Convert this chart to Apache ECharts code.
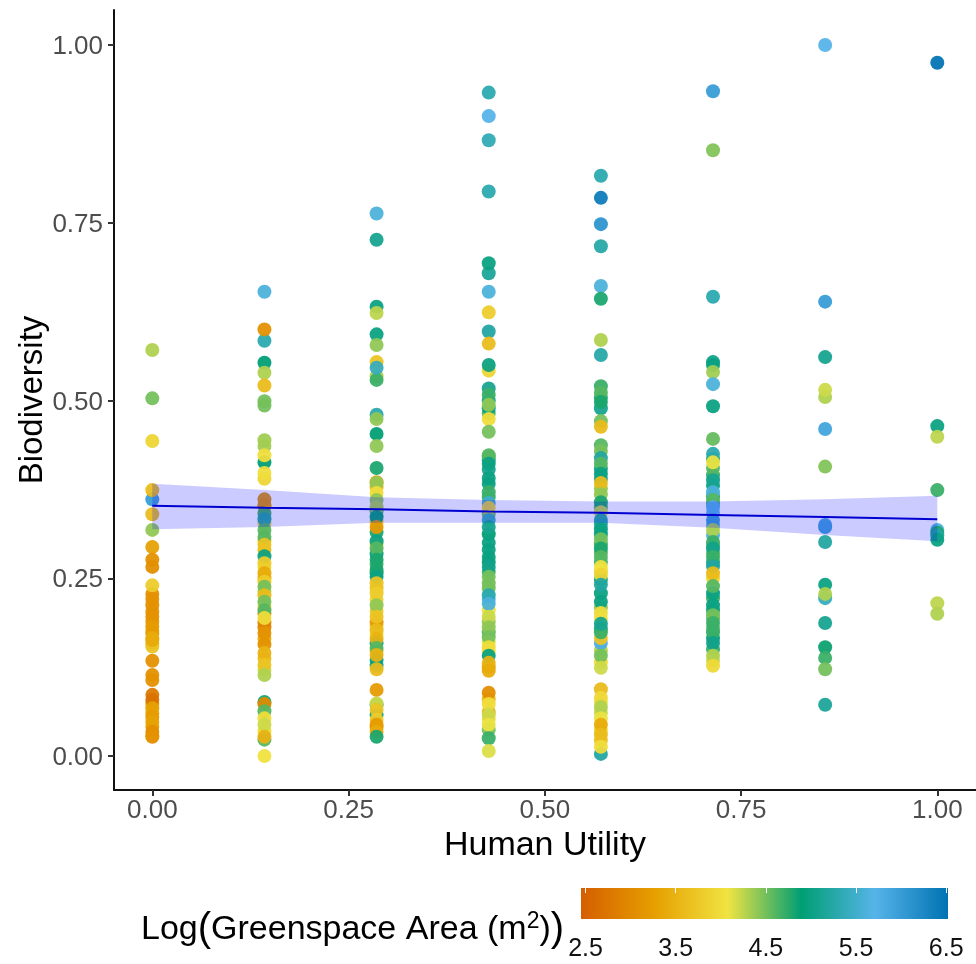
<!DOCTYPE html>
<html>
<head>
<meta charset="utf-8">
<style>html,body{margin:0;padding:0;background:#fff}#c{width:976px;height:964px}</style>
<script src="https://cdn.jsdelivr.net/npm/echarts@6/dist/echarts.min.js"></script>
</head>
<body>
<div id="c"></div>
<script>
const utilityLevels = [0, 1/7, 2/7, 3/7, 4/7, 5/7, 6/7, 1];

const biodiversity0 = [.228,.189,.176,.158,.073,.060,.041,.361,.571,.503,.443,.374,.340,.318,.294,.276,.266,.240,.221,.212,.203,.196,.182,.172,.154,.166,.163,.134,.114,.107,.086,.079,.067,.055,.048,.028,.034,.027];
const area0 = [3.1,3.2,3.4,3.6,3.3,3.4,3.2,6.0,4.3,4.5,3.9,3.6,3.6,4.4,3.3,3.1,3.05,3.8,3.1,3.1,3.1,3.1,3.2,3.2,3.7,3.4,3.4,3.1,3.1,3.1,2.8,2.7,3.3,3.2,3.3,3.6,3.05,3.1];

const biodiversity1 = [.351,.327,.302,.290,.265,.250,.232,.211,.200,.181,.165,.137,.121,.035,.653,.584,.600,.553,.539,.521,.499,.493,.444,.436,.413,.423,.390,.398,.353,.361,.341,.333,.318,.308,.297,.281,.271,.257,.245,.238,.226,.217,.205,.188,.194,.173,.157,.145,.128,.114,.076,.073,.063,.023,.053,.044,.027,.000];
const area1 = [3.3,3.9,3.8,3.6,4.0,3.5,4.3,3.9,3.0,3.0,3.4,3.6,4.2,4.0,5.6,5.3,3.1,4.9,4.3,3.6,4.5,4.5,4.35,4.35,4.9,4.0,3.9,4.0,3.2,3.1,4.7,5.2,4.6,4.6,3.7,5.0,3.8,3.4,3.8,4.5,3.6,4.5,4.6,2.9,4.0,3.1,3.1,3.5,3.7,4.3,4.8,3.0,4.6,4.6,4.0,4.2,3.5,4.05];

const biodiversity2 = [.378,.344,.329,.315,.298,.284,.270,.257,.236,.220,.204,.183,.171,.147,.128,.058,.040,.763,.726,.632,.623,.593,.578,.554,.534,.529,.546,.480,.474,.453,.436,.405,.385,.384,.370,.360,.350,.336,.322,.302,.292,.276,.262,.252,.243,.229,.212,.188,.196,.177,.159,.165,.152,.135,.142,.122,.093,.072,.074,.065,.051,.044,.034,.027];
const area2 = [3.6,4.6,3.8,4.8,4.0,5.0,4.7,4.9,3.7,3.9,3.8,3.9,4.0,3.8,5.0,5.0,3.3,5.6,5.1,5.0,4.25,5.0,4.4,3.7,4.3,4.7,5.4,5.3,4.4,4.9,4.4,4.8,3.3,4.4,4.0,4.4,4.3,4.9,3.2,5.0,4.6,4.8,4.8,5.0,3.7,3.8,4.4,3.2,3.7,3.6,5.0,3.5,4.6,5.0,3.5,3.6,3.2,5.0,4.2,3.7,3.8,3.2,3.4,4.8];

const biodiversity3 = [.500,.482,.416,.403,.383,.364,.340,.312,.290,.273,.259,.236,.220,.205,.189,.174,.160,.147,.125,.080,.052,.037,.933,.900,.866,.794,.679,.693,.653,.624,.597,.580,.542,.550,.517,.508,.489,.494,.474,.456,.421,.423,.411,.391,.371,.356,.349,.332,.322,.300,.280,.266,.243,.252,.226,.214,.196,.181,.167,.153,.141,.131,.120,.089,.062,.073,.058,.044,.025,.007];
const area3 = [5.1,4.6,5.0,5.1,5.0,4.7,4.5,4.9,5.0,4.9,4.7,4.5,5.7,4.1,4.4,4.6,4.1,4.0,3.3,3.6,4.0,4.5,5.3,5.7,5.35,5.3,5.15,5.0,5.6,3.8,5.2,3.6,3.9,5.0,5.1,4.7,5.0,4.4,4.0,4.5,4.6,4.6,5.0,5.0,4.7,5.5,3.9,5.4,5.1,5.0,5.0,5.05,4.5,4.5,5.3,5.6,4.2,4.4,4.5,4.0,5.0,3.5,3.4,3.05,3.4,4.0,4.2,4.1,4.7,4.15];

const biodiversity4 = [.504,.437,.404,.390,.376,.350,.326,.312,.298,.286,.273,.260,.248,.229,.209,.193,.179,.148,.132,.076,.061,.036,.022,.816,.785,.748,.717,.661,.643,.585,.564,.520,.511,.489,.498,.471,.463,.429,.419,.411,.397,.384,.368,.357,.343,.332,.319,.305,.292,.280,.266,.255,.241,.217,.201,.159,.166,.174,.186,.141,.124,.094,.082,.069,.053,.044,.030,.003,.013];
const area4 = [4.8,4.6,5.0,5.1,4.4,4.6,5.3,5.0,4.7,4.6,4.7,3.9,4.8,5.0,4.4,4.1,5.0,4.3,4.0,4.0,4.2,3.9,3.7,5.3,6.4,6.1,5.25,5.6,4.8,4.3,5.25,4.7,4.6,5.1,4.8,4.5,3.6,4.5,5.2,4.6,5.0,3.6,4.4,4.8,4.2,5.2,5.0,4.5,4.8,4.6,4.05,3.9,5.2,5.0,4.0,5.8,3.7,4.7,5.1,4.5,4.2,3.6,3.95,4.3,4.1,3.4,3.6,5.2,4.0];

const biodiversity5 = [.418,.395,.380,.365,.355,.325,.296,.285,.273,.250,.222,.205,.193,.180,.166,.150,.134,.935,.852,.646,.554,.550,.540,.523,.492,.446,.425,.405,.413,.388,.371,.360,.350,.342,.332,.311,.318,.301,.292,.280,.267,.257,.229,.239,.212,.198,.187,.174,.159,.141,.127];
const area5 = [4.8,4.7,5.0,4.8,5.3,5.5,4.6,4.6,5.0,3.9,4.7,4.8,4.6,4.6,4.9,4.7,4.2,6.0,4.45,5.3,5.05,5.0,4.35,5.6,5.0,4.55,5.3,4.6,4.1,5.1,5.6,4.6,5.7,5.7,6.0,5.6,4.3,4.7,5.05,4.7,5.2,3.6,5.0,4.6,5.0,4.5,4.7,4.7,5.05,4.3,3.95];

const biodiversity6 = [1.000,.639,.561,.505,.515,.460,.407,.322,.325,.301,.241,.222,.228,.187,.153,.138,.122,.072];
const area6 = [5.7,6.0,5.1,4.3,4.2,5.9,4.45,6.0,5.9,5.2,5.0,5.4,4.3,5.1,4.85,4.7,4.5,5.15];

const biodiversity7 = [.975,.464,.449,.374,.318,.314,.310,.304,.215,.200];
const area7 = [6.5,5.0,4.25,4.7,5.6,4.8,5.2,5.0,4.25,4.3];

const trendX = [0, 1/7, 2/7, 3/7, 4/7, 5/7, 6/7, 1];
const trendY = [.352, .349, .347, .344, .342, .339, .336, .333];
const bandUpper = [.383, .374, .364, .360, .358, .358, .361, .366];
const bandLower = [.319, .322, .328, .328, .328, .321, .311, .302];

const xTicks = [0, 0.25, 0.5, 0.75, 1];
const yTicks = [0, 0.25, 0.5, 0.75, 1];
const colourTicks = [2.5, 3.5, 4.5, 5.5, 6.5];
const paletteColours = ['#D55E00', '#E69F00', '#F0E442', '#009E73', '#56B4E9', '#0072B2'];
const colourMin = 2.45, colourMax = 6.52;

const columns = [
  [biodiversity0, area0], [biodiversity1, area1], [biodiversity2, area2], [biodiversity3, area3],
  [biodiversity4, area4], [biodiversity5, area5], [biodiversity6, area6], [biodiversity7, area7]
];
const points = [];
columns.forEach(function (c, i) {
  c[0].forEach(function (v, j) { points.push([utilityLevels[i], v, c[1][j]]); });
});

const FONT = '"Liberation Sans", Arial, sans-serif';
const axisLine = { show: true, onZero: false, lineStyle: { color: '#111', width: 2 } };

const chart = echarts.init(document.getElementById('c'), null, { renderer: 'canvas' });
chart.setOption({
  animation: false,
  backgroundColor: '#fff',
  textStyle: { fontFamily: FONT },
  grid: [
    { left: 114, top: 10, right: 0, bottom: 174, containLabel: false, outerBoundsMode: 'none' },
    { left: 581, top: 888, width: 367, height: 31, show: true, borderWidth: 0, outerBoundsMode: 'none',
      backgroundColor: new echarts.graphic.LinearGradient(0, 0, 1, 0,
        paletteColours.map(function (c, i) { return { offset: i / (paletteColours.length - 1), color: c }; })) }
  ],
  xAxis: [
    { type: 'value', gridIndex: 0, min: -0.0488, max: 1.0493, splitLine: { show: false },
      axisLine: axisLine,
      axisTick: { show: true, length: 6, customValues: xTicks, lineStyle: { color: '#333', width: 2 } },
      axisLabel: { customValues: xTicks, fontSize: 26, color: '#4d4d4d', margin: 8, fontFamily: FONT, showMinLabel: true, showMaxLabel: true,
        formatter: function (v) { return v.toFixed(2); } },
      name: 'Human Utility', nameLocation: 'middle', nameGap: 39,
      nameTextStyle: { fontSize: 34, color: '#000', fontFamily: FONT } },
    { type: 'value', gridIndex: 1, min: colourMin, max: colourMax, position: 'bottom', splitLine: { show: false },
      axisLine: { show: false }, axisTick: { show: false },
      axisLabel: { customValues: colourTicks, fontSize: 25, color: '#111', margin: 18, fontFamily: FONT, showMinLabel: true, showMaxLabel: true,
        formatter: function (v) { return v.toFixed(1); } } },
    { type: 'value', gridIndex: 1, min: colourMin, max: colourMax, position: 'top', splitLine: { show: false },
      axisLine: { show: false }, axisLabel: { show: false },
      axisTick: { show: true, inside: true, length: 5, customValues: colourTicks, lineStyle: { color: '#fff', width: 1 } } }
  ],
  yAxis: [
    { type: 'value', gridIndex: 0, min: -0.0478, max: 1.0492, splitLine: { show: false },
      axisLine: axisLine,
      axisTick: { show: true, length: 6, customValues: yTicks, lineStyle: { color: '#333', width: 2 } },
      axisLabel: { customValues: yTicks, margin: 11, showMinLabel: true, showMaxLabel: true,
        rich: { a: { fontSize: 26, color: '#4d4d4d', fontFamily: FONT, padding: [4, 0, 0, 0] } },
        formatter: function (v) { return '{a|' + v.toFixed(2) + '}'; } },
      name: 'Biodiversity', nameLocation: 'middle', nameGap: 65, nameRotate: 90, nameMoveOverlap: false,
      nameTextStyle: { fontSize: 33, color: '#000', fontFamily: FONT } },
    { type: 'value', gridIndex: 1, min: 0, max: 1, show: false }
  ],
  visualMap: {
    show: false, type: 'continuous', seriesIndex: 0, dimension: 2,
    min: colourMin, max: colourMax, inRange: { color: paletteColours }
  },
  series: [
    { type: 'scatter', xAxisIndex: 0, yAxisIndex: 0, data: points, symbolSize: 14,
      itemStyle: { opacity: 0.94 }, z: 2, silent: true },
    { type: 'custom', xAxisIndex: 0, yAxisIndex: 0, z: 3, silent: true,
      data: trendX.map(function (x, i) { return [x, bandLower[i], bandUpper[i]]; }),
      encode: { x: 0, y: [1, 2] },
      renderItem: function (params, api) {
        if (params.dataIndex !== 0) return;
        const up = [], low = [];
        trendX.forEach(function (x, i) {
          up.push(api.coord([x, bandUpper[i]]));
          low.unshift(api.coord([x, bandLower[i]]));
        });
        return { type: 'polygon', shape: { points: up.concat(low) },
          style: { fill: 'rgba(20,20,255,0.22)', stroke: 'none' } };
      } },
    { type: 'line', xAxisIndex: 0, yAxisIndex: 0, z: 4, showSymbol: false, silent: true,
      data: trendX.map(function (x, i) { return [x, trendY[i]]; }),
      lineStyle: { color: '#0000d0', width: 2 } }
  ],
  graphic: [
    { type: 'text', left: 141, top: 910, z: 10, silent: true,
      style: {
        text: '{a|Log}{p|(}{a|Greenspace Area (m}{s|2}{a|)}{p|)}',
        fontFamily: FONT,
        rich: {
          a: { fontSize: 34, fontFamily: FONT, fill: '#000', color: '#000' },
          p: { fontSize: 40, fontFamily: FONT, fill: '#000', color: '#000' },
          s: { fontSize: 23, fontFamily: FONT, fill: '#000', color: '#000', verticalAlign: 'top', padding: [0, 0, 14, 0] }
        }
      } }
  ]
});
</script>
</body>
</html>
